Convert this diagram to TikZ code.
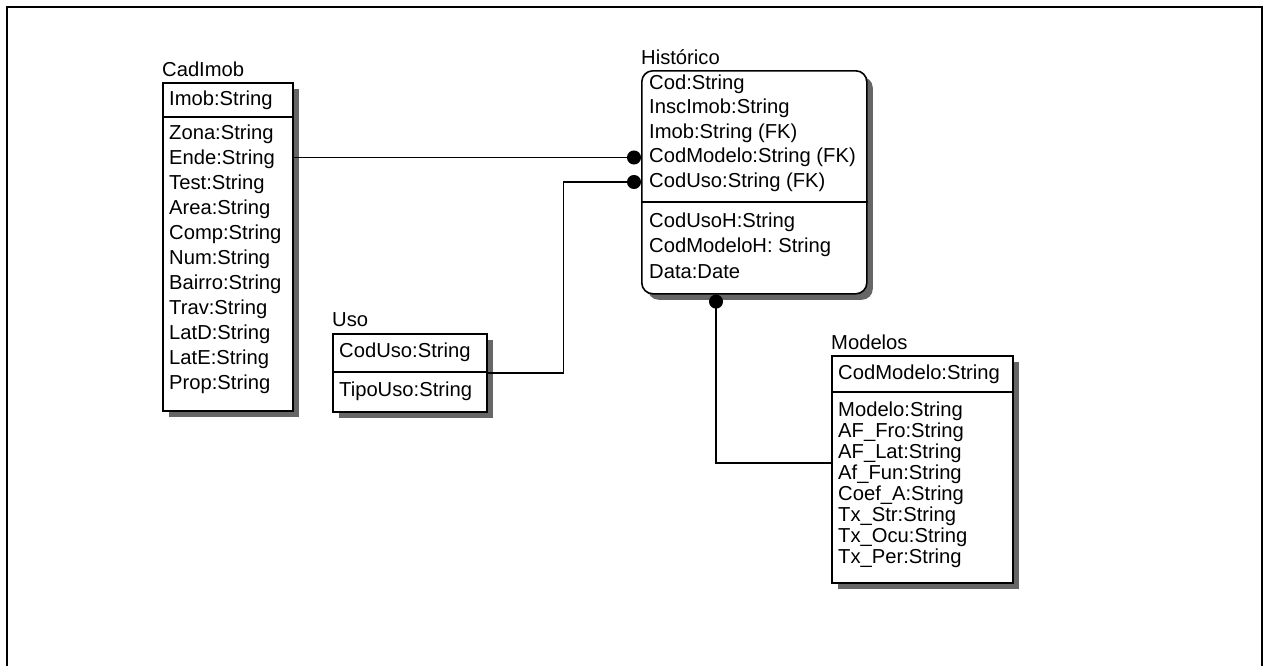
\documentclass[tikz,border=0pt]{standalone}
\usepackage{fontspec}
\setmainfont{Liberation Sans}
\usetikzlibrary{arrows.meta,shadows}

\begin{document}
\begin{tikzpicture}[
    x=1pt,
    y=-1pt,
    every node/.style={font=\fontsize{20.2}{24}\selectfont},
    entity/.style={draw, line width=1.6, fill=white, anchor=north west, inner sep=0,
      drop shadow={shadow xshift=6pt, shadow yshift=-6pt, fill=black!60, opacity=1}},
    attr/.style={anchor=west, inner sep=0},
    fk/.style={line width=1.6, -{Circle[length=14pt]}}
]
  \useasboundingbox (0,0) rectangle (1268,665);
  \draw[line width=1.8] (7,672) -- (7,7) -- (1262,7) -- (1262,672);

  % CadImob
  \node[entity, minimum width=130pt, minimum height=328pt] (cad) at (162,82) {};
  \node[attr] (cadT) at (162,69) {CadImob};
  \node[attr] (cadKey) at (169,100) {Imob:String};
  \draw[line width=1.6] (cad.west |- 0,117) -- (cad.east |- 0,117);
  \foreach \t [count=\i] in {Zona,Ende,Test,Area,Comp,Num,Bairro,Trav,LatD,LatE,Prop}
    \node[attr] (cad\i) at (169,{109+25*\i}) {\t:String};

  % Historico
  \node[entity, rounded corners=11pt, minimum width=225pt, minimum height=223pt] (hist) at (641,70) {};
  \node[attr] (histT) at (641,57) {Histórico};
  \foreach \t [count=\i] in {{Cod:String},{InscImob:String},{Imob:String (FK)},{CodModelo:String (FK)},{CodUso:String (FK)}}
    \node[attr] (hist\i) at (649,{59.5+24.5*\i}) {\t};
  \draw[line width=1.6] (hist.west |- 0,202) -- (hist.east |- 0,202);
  \foreach \t [count=\i] in {{CodUsoH:String},{CodModeloH: String},{Data:Date}}
    \node[attr] (histH\i) at (649,{197+25*\i}) {\t};

  % Uso
  \node[entity, minimum width=154pt, minimum height=78pt] (uso) at (332,333) {};
  \node[attr] (usoT) at (332,320) {Uso};
  \node[attr] (usoKey) at (339,352) {CodUso:String};
  \draw[line width=1.6] (uso.west |- 0,372) -- (uso.east |- 0,372);
  \node[attr] (uso1) at (339,391) {TipoUso:String};

  % Modelos
  \node[entity, minimum width=181pt, minimum height=227pt] (mod) at (831,355) {};
  \node[attr] (modT) at (831,342) {Modelos};
  \node[attr] (modKey) at (838,374) {CodModelo:String};
  \draw[line width=1.6] (mod.west |- 0,392) -- (mod.east |- 0,392);
  \foreach \t [count=\i] in {Modelo,AF\_Fro,AF\_Lat,Af\_Fun,Coef\_A,Tx\_Str,Tx\_Ocu,Tx\_Per}
    \node[attr] (mod\i) at (838,{390+21*\i}) {\t:String};

  % relations
  \draw[fk] (cad.east |- hist4) -- (hist4 -| hist.west);
  \draw[fk] (uso.east |- 0,373) -- ++(76,0) |- (hist5 -| hist.west);
  \draw[fk] (mod.west |- 0,463) -| (hist.south -| 716,0);
\end{tikzpicture}
\end{document}
